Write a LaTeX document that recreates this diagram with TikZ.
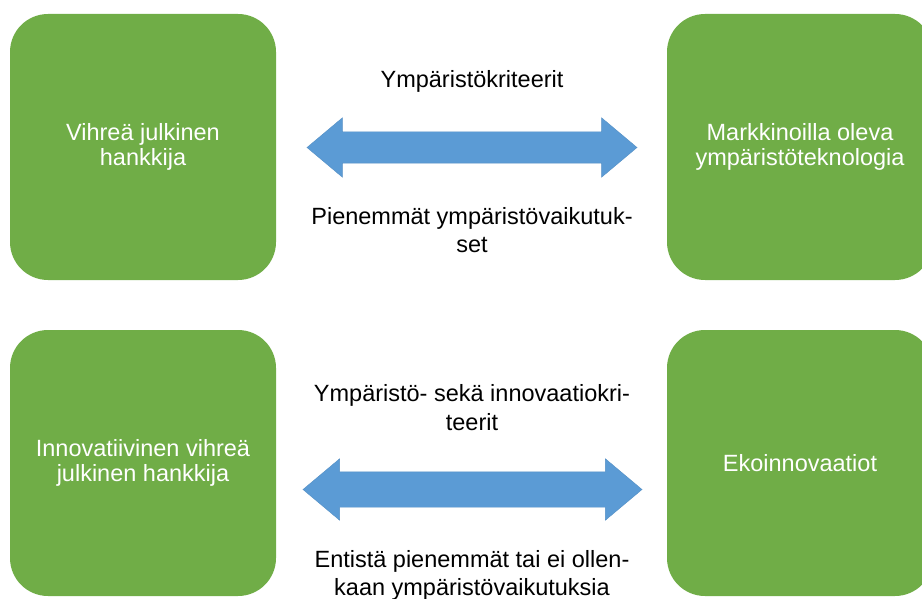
\documentclass[tikz,border=0pt]{standalone}
\usepackage{fontspec}
\setmainfont{Liberation Sans}
\usetikzlibrary{shapes.arrows}
\definecolor{mygreen}{RGB}{112,173,71}
\definecolor{myblue}{RGB}{91,155,213}
\tikzset{
    hankebox/.style={rounded corners=38pt, fill=mygreen, text=white, inner sep=0pt,
        minimum width=266pt, minimum height=266pt, align=center,
        font=\fontsize{23.5}{25.5}\selectfont},
    kaksoisnuoli/.style={double arrow, fill=myblue, draw=myblue!92!black, line width=0.4pt,
        inner xsep=0pt, double arrow tip angle=80},
    selite/.style={anchor=base, align=center, inner sep=0pt,
        font=\fontsize{23.5}{28.5}\selectfont}
}

\begin{document}
\begin{tikzpicture}[x=1pt, y=-1pt]
    \useasboundingbox (0,0) rectangle (922,599);
    \clip (0,0) rectangle (922,599);
    \begin{scope}
        % Upper row
        \node[hankebox] (vihrea) at (143, 147) {Vihreä julkinen\\hankkija};
        \node[hankebox] (markkinat) at (800, 147) {Markkinoilla oleva\\ympäristöteknologia};
        \node[kaksoisnuoli, inner ysep=15.5pt, minimum height=330pt,
            double arrow head extend=14pt] (ylanuoli) at (472, 147.5) {};
        \node[selite] (kriteerit) at (472, 88) {Ympäristökriteerit};
        \node[selite] (vaikutukset) at (472, 253) {Pienemmät ympäristövaikutuk-\\set};
    \end{scope}
    \begin{scope}
        % Lower row
        \node[hankebox] (innovatiivinen) at (143, 463) {Innovatiivinen vihreä\\julkinen hankkija};
        \node[hankebox] (eko) at (800, 463) {Ekoinnovaatiot};
        \node[kaksoisnuoli, inner ysep=17.5pt, minimum height=339pt,
            double arrow head extend=13pt] (alanuoli) at (472.5, 489.5) {};
        \node[selite] (innokriteerit) at (472, 430) {Ympäristö- sekä innovaatiokri-\\teerit};
        \node[selite] (innovaikutukset) at (472, 595.5) {Entistä pienemmät tai ei ollen-\\kaan ympäristövaikutuksia};
    \end{scope}
\end{tikzpicture}
\end{document}
